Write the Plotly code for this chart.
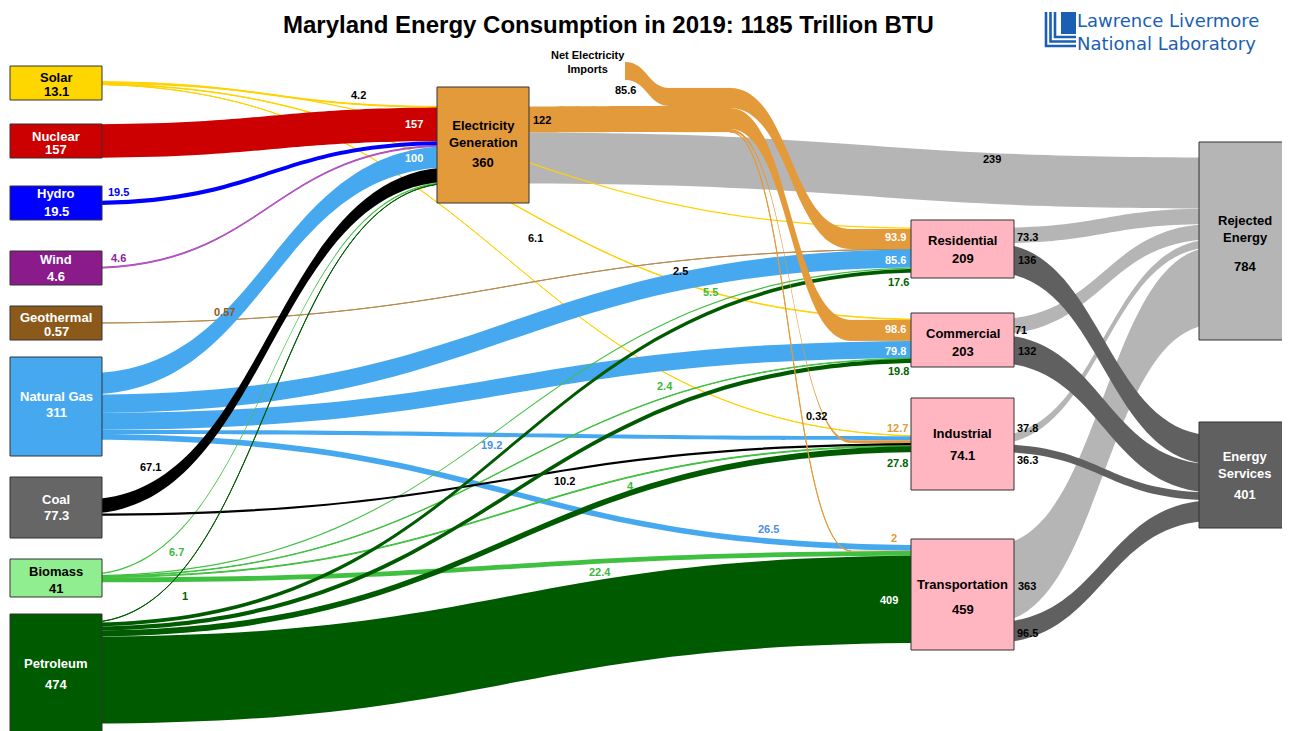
import plotly.graph_objects as go

# ---------------- DATA ----------------
NODE_NAMES = ["Solar", "Nuclear", "Hydro", "Wind", "Geothermal", "Natural Gas", "Coal",
              "Biomass", "Petroleum", "Net Electricity Imports", "Electricity Generation",
              "Electricity", "Electricity to Residential", "Electricity to Commercial",
              "Electricity to Industrial", "Electricity to Transportation",
              "Residential", "Commercial", "Industrial", "Transportation",
              "Rejected Energy", "Energy Services"]
NODE_TOTALS = [13.1, 157, 19.5, 4.6, 0.57, 311, 77.3, 41, 474, 85.6, 360,
               207.6, 93.9, 98.6, 12.7, 2,
               209, 203, 74.1, 459, 784, 401]
GRAND_TOTAL = 1185

LINK_SOURCE = ["Residential", "Commercial", "Industrial", "Transportation", "Electricity Generation",
               "Residential", "Commercial", "Industrial", "Transportation",
               "Solar", "Solar", "Solar", "Solar", "Geothermal", "Wind", "Hydro",
               "Natural Gas", "Natural Gas", "Natural Gas", "Natural Gas", "Natural Gas",
               "Biomass", "Biomass", "Biomass", "Biomass", "Biomass",
               "Coal", "Coal",
               "Petroleum", "Petroleum", "Petroleum", "Petroleum", "Petroleum",
               "Nuclear", "Electricity Generation", "Net Electricity Imports",
               "Electricity", "Electricity", "Electricity", "Electricity",
               "Electricity to Residential", "Electricity to Commercial",
               "Electricity to Industrial", "Electricity to Transportation"]
LINK_TARGET = ["Rejected Energy", "Rejected Energy", "Rejected Energy", "Rejected Energy", "Rejected Energy",
               "Energy Services", "Energy Services", "Energy Services", "Energy Services",
               "Electricity Generation", "Residential", "Commercial", "Industrial", "Residential",
               "Electricity Generation", "Electricity Generation",
               "Electricity Generation", "Residential", "Commercial", "Industrial", "Transportation",
               "Electricity Generation", "Residential", "Commercial", "Industrial", "Transportation",
               "Electricity Generation", "Industrial",
               "Electricity Generation", "Residential", "Commercial", "Industrial", "Transportation",
               "Electricity Generation", "Electricity", "Electricity",
               "Electricity to Residential", "Electricity to Commercial",
               "Electricity to Industrial", "Electricity to Transportation",
               "Residential", "Commercial", "Industrial", "Transportation"]
LINK_VALUE = [73.3, 71, 37.8, 363, 239,
              136, 132, 36.3, 96.5,
              4.2, 6.1, 2.5, 0.32, 0.57, 4.6, 19.5,
              100, 85.6, 79.8, 19.2, 26.5,
              6.7, 5.5, 2.4, 4, 22.4,
              67.1, 10.2,
              1, 17.6, 19.8, 27.8, 409,
              157, 122, 85.6,
              93.9, 98.6, 12.7, 2,
              93.9, 98.6, 12.7, 2]

# ---------------- LAYOUT / STYLE ----------------
OFF = 8                      # page body margin
W, H = 1290 - OFF, 731 - OFF
K = 0.213                    # px per trillion BTU
THICK = 60

SECTORS = ["Residential", "Commercial", "Industrial", "Transportation"]
# node centre positions in page px (None: computed so that flows run straight)
NODE_XY = {
    "Solar": (56, 83), "Nuclear": (56, 141), "Hydro": (56, 203), "Wind": (56, 268),
    "Geothermal": (56, 323), "Natural Gas": (56, 406.5), "Coal": (56, 507.5),
    "Biomass": (56, 578), "Petroleum": (56, 673), "Net Electricity Imports": (595, 71),
    "Electricity Generation": (483, 145), "Electricity": (700, 110),
    "Electricity to Residential": (881, None), "Electricity to Commercial": (881, None),
    "Electricity to Industrial": (881, None), "Electricity to Transportation": (881, None),
    "Residential": (962.5, 250), "Commercial": (962.5, 341), "Industrial": (962.5, 444),
    "Transportation": (962.5, 594), "Rejected Energy": (1245, 241),
    "Energy Services": (1245, 478),
}

ORANGE = "#E39A3B"
COL = {
    "Solar": "#FFD700", "Nuclear": "#CC0000", "Hydro": "#0000FF", "Wind": "#8B1A8B",
    "Geothermal": "#8B5A1A", "Natural Gas": "#46A9F0", "Coal": "#666666", "Biomass": "#90EE90",
    "Petroleum": "#005A00", "Net Electricity Imports": "rgba(0,0,0,0)",
    "Electricity Generation": ORANGE, "Electricity": ORANGE,
    "Electricity to Residential": ORANGE, "Electricity to Commercial": ORANGE,
    "Electricity to Industrial": ORANGE, "Electricity to Transportation": ORANGE,
    "Residential": "#FFB6C1", "Commercial": "#FFB6C1", "Industrial": "#FFB6C1",
    "Transportation": "#FFB6C1", "Rejected Energy": "#B5B5B5", "Energy Services": "#606060",
}
LINK_COL_BY_SOURCE = {
    "Solar": "#FFD200", "Nuclear": "#CC0000", "Hydro": "#0000FF", "Wind": "#B050C0",
    "Geothermal": "#B88A50", "Natural Gas": "#46A9F0", "Coal": "#000000", "Biomass": "#40C040",
    "Petroleum": "#005A00",
}
REJ_COL, SERV_COL = "#B5B5B5", "#606060"

GREEN_L, GREEN_D, BLUE_L = "#3CB83C", "#006400", "#4A90E2"
# link label placement, in LINK order:
#   ("fix", x, y) page px; ("above"/"below", x) = next to the link at that x; None = no label
LABEL_POS = [("fix", 1027, 237), ("fix", 1021, 330), ("fix", 1027, 428), ("fix", 1027, 586),
             ("fix", 992, 159),
             ("fix", 1027, 260), ("fix", 1027, 351), ("fix", 1027, 460), ("fix", 1027, 633),
             ("above", 358), ("fix", 535, 238), ("above", 680), ("above", 816), ("above", 224),
             ("above", 118), ("above", 118),
             ("fix", 414, 158), ("fix", 895, 260), ("fix", 895, 351), ("below", 491), ("above", 768),
             ("below", 177), ("above", 710), ("above", 665), ("below", 630), ("below", 600),
             ("above", 150), ("below", 564),
             ("fix", 185, 596), ("fix", 898, 282), ("fix", 898, 371), ("fix", 897, 463), ("fix", 889, 600),
             ("fix", 414, 124), ("fix", 542, 120), ("fix", 625, 90),
             None, None, None, None,
             ("fix", 895, 237), ("fix", 895, 329), ("fix", 897, 428), ("fix", 894, 538)]
LABEL_COL = ["black"] * 9 + \
            ["black", "black", "black", "black", "#8B5A1A", "#9020A0", "#0000FF"] + \
            ["white", "white", "white", BLUE_L, BLUE_L] + \
            [GREEN_L] * 5 + \
            ["black", "black"] + \
            [GREEN_D, GREEN_D, GREEN_D, GREEN_D, "white"] + \
            ["white", "black", "black"] + \
            [None] * 4 + \
            ["white", "white", ORANGE, ORANGE]
LABEL_SIZE = 11
LABEL_GAP = 2

# boxes: node -> (x0, y0, x1, y1, text colour, [(text, y), ...]) in page px
BOXES = {
    "Solar": (10, 66, 102, 100, "black", [("Solar", 77), ("{v}", 91)]),
    "Nuclear": (10, 124, 102, 158, "white", [("Nuclear", 136), ("{v}", 150)]),
    "Hydro": (10, 186, 102, 220, "white", [("Hydro", 194), ("{v}", 211)]),
    "Wind": (10, 251, 102, 285, "white", [("Wind", 259), ("{v}", 276)]),
    "Geothermal": (10, 306, 102, 340, "white", [("Geothermal", 317), ("{v}", 331)]),
    "Natural Gas": (10, 357, 102, 456, "white", [("Natural Gas", 396), ("{v}", 412)]),
    "Coal": (10, 477, 102, 538, "white", [("Coal", 499), ("{v}", 516)]),
    "Biomass": (10, 559, 102, 597, "black", [("Biomass", 571), ("{v}", 588)]),
    "Petroleum": (10, 614, 102, 745, "white", [("Petroleum", 663), ("{v}", 684)]),
    "Electricity Generation": (437, 87, 529, 203, "black",
                               [("Electricity<br>Generation", 134), ("{v}", 162)]),
    "Residential": (911, 220, 1014, 278, "black", [("Residential", 241), ("{v}", 258)]),
    "Commercial": (911, 313, 1014, 367, "black", [("Commercial", 334), ("{v}", 351)]),
    "Industrial": (911, 398, 1014, 490, "black", [("Industrial", 433), ("{v}", 455)]),
    "Transportation": (911, 539, 1014, 650, "black", [("Transportation", 584), ("{v}", 609)]),
    "Rejected Energy": (1199, 142, 1295, 340, "black", [("Rejected<br>Energy", 229), ("{v}", 266)]),
    "Energy Services": (1199, 422, 1295, 528, "white", [("Energy<br>Services", 465), ("{v}", 494)]),
}

FONT = "Liberation Sans, Arial, sans-serif"


def fmt(v):
    return f"{v:g}"


def px(X):
    return (X - OFF) / W


def py(Y):
    return 1 - (Y - OFF) / H


idx = {n: i for i, n in enumerate(NODE_NAMES)}
src = [idx[s] for s in LINK_SOURCE]
tgt = [idx[t] for t in LINK_TARGET]
NL = len(LINK_VALUE)

node_in = {n: 0.0 for n in NODE_NAMES}
node_out = {n: 0.0 for n in NODE_NAMES}
for s, t, v in zip(LINK_SOURCE, LINK_TARGET, LINK_VALUE):
    node_out[s] += v
    node_in[t] += v


def nval(n):
    return max(node_in[n], node_out[n])


# padding chosen so that the value->pixel scale of the first column equals K
first_col = [n for n in NODE_NAMES if node_in[n] == 0]
s0 = sum(nval(n) for n in first_col)
pad = (H - K * s0) / (len(first_col) - 1)

# vertical centres of the electricity feeder nodes: aligned with their slot in each sector
cy = {n: xy[1] for n, xy in NODE_XY.items()}
for sct in SECTORS:
    cy["Electricity to " + sct] = cy[sct]
for _ in range(10):
    for sct in SECTORS:
        inflow = [(s, v) for s, t, v in zip(LINK_SOURCE, LINK_TARGET, LINK_VALUE) if t == sct]
        inflow.sort(key=lambda sv: cy[sv[0]] - nval(sv[0]) * K / 2)
        y = cy[sct] - nval(sct) * K / 2
        for s, v in inflow:
            if s == "Electricity to " + sct:
                cy[s] = y + v * K / 2
            y += v * K

# replicate the link stacking to place labels next to their links
ny0 = {n: cy[n] - nval(n) * K / 2 for n in NODE_NAMES}
ys, yt = [0.0] * NL, [0.0] * NL
for n in NODE_NAMES:
    outs = sorted([i for i in range(NL) if LINK_SOURCE[i] == n],
                  key=lambda i: (ny0[LINK_TARGET[i]], i))
    y = ny0[n]
    for i in outs:
        w = LINK_VALUE[i] * K
        ys[i] = y + w / 2
        y += w
    ins = sorted([i for i in range(NL) if LINK_TARGET[i] == n],
                 key=lambda i: (ny0[LINK_SOURCE[i]], i))
    y = ny0[n]
    for i in ins:
        w = LINK_VALUE[i] * K
        yt[i] = y + w / 2
        y += w


def link_y(i, X):
    x0 = NODE_XY[LINK_SOURCE[i]][0] + THICK / 2
    x1 = NODE_XY[LINK_TARGET[i]][0] - THICK / 2
    lo, hi = 0.0, 1.0
    for _ in range(50):
        t = (lo + hi) / 2
        xt = x0 + (x1 - x0) * (1.5 * t * (1 - t) + t ** 3)
        if xt < X:
            lo = t
        else:
            hi = t
    t = (lo + hi) / 2
    return ys[i] + (yt[i] - ys[i]) * (3 * t * t - 2 * t ** 3)


link_colors = []
for s, t in zip(LINK_SOURCE, LINK_TARGET):
    if t == "Rejected Energy":
        link_colors.append(REJ_COL)
    elif t == "Energy Services":
        link_colors.append(SERV_COL)
    elif s in LINK_COL_BY_SOURCE:
        link_colors.append(LINK_COL_BY_SOURCE[s])
    else:
        link_colors.append(ORANGE)

fig = go.Figure(go.Sankey(
    arrangement="fixed",
    domain=dict(x=[0, 1], y=[0, 1]),
    node=dict(
        label=["" for _ in NODE_NAMES],
        customdata=NODE_NAMES,
        hovertemplate="%{customdata}: %{value}<extra></extra>",
        x=[(NODE_XY[n][0] - OFF) / W for n in NODE_NAMES],
        y=[(cy[n] - OFF) / H for n in NODE_NAMES],
        pad=pad,
        thickness=THICK,
        color=[COL[n] for n in NODE_NAMES],
        line=dict(width=0),
    ),
    link=dict(source=src, target=tgt, value=LINK_VALUE, color=link_colors,
              hoverinfo="none"),
))

shapes = []
annotations = []
for n, (x0, y0, x1, y1, tc, texts) in BOXES.items():
    shapes.append(dict(type="rect", xref="paper", yref="paper", layer="above",
                       x0=px(x0), x1=px(x1), y0=py(y0), y1=py(y1),
                       fillcolor=COL[n], line=dict(color="#333333", width=1)))
    total = NODE_TOTALS[idx[n]]
    for txt, ty in texts:
        annotations.append(dict(
            x=px((x0 + min(x1, 1290)) / 2), y=py(ty), xref="paper", yref="paper",
            text="<b>" + txt.replace("{v}", fmt(total)) + "</b>", showarrow=False,
            font=dict(family=FONT, size=13, color=tc), xanchor="center", yanchor="middle"))

for i, (v, pos, lc) in enumerate(zip(LINK_VALUE, LABEL_POS, LABEL_COL)):
    if pos is None:
        continue
    txt = fmt(v)
    if pos[0] == "fix":
        lx, ly = pos[1], pos[2]
    else:
        lx = pos[1]
        half_w = len(txt) * 3.3 + 1
        half_lw = LINK_VALUE[i] * K / 2
        yl, yr = link_y(i, lx - half_w), link_y(i, lx + half_w)
        if pos[0] == "above":
            ly = min(yl, yr) - half_lw - LABEL_GAP - LABEL_SIZE / 2
        else:
            ly = max(yl, yr) + half_lw + LABEL_GAP + LABEL_SIZE / 2
    annotations.append(dict(
        x=px(lx), y=py(ly), xref="paper", yref="paper", text="<b>" + txt + "</b>",
        showarrow=False, font=dict(family=FONT, size=LABEL_SIZE, color=lc),
        xanchor="center", yanchor="middle"))

# Net electricity imports label
annotations.append(dict(x=px(588), y=py(62), xref="paper", yref="paper",
                        text="<b>Net Electricity<br>Imports</b>", showarrow=False,
                        font=dict(family=FONT, size=11, color="black"),
                        xanchor="center", yanchor="middle"))

# title
annotations.append(dict(x=px(608), y=py(24), xref="paper", yref="paper",
                        text=f"<b>Maryland Energy Consumption in 2019: {GRAND_TOTAL} Trillion BTU</b>",
                        showarrow=False, font=dict(family=FONT, size=24, color="black"),
                        xanchor="center", yanchor="middle"))

# LLNL logo
LOGO_BLUE = "#1A5FB4"
annotations.append(dict(x=px(1075), y=py(32), xref="paper", yref="paper",
                        text="Lawrence Livermore<br>National Laboratory", showarrow=False,
                        align="left",
                        font=dict(family="DejaVu Sans, Liberation Sans, Arial", size=18,
                                  color=LOGO_BLUE),
                        xanchor="left", yanchor="middle"))


def P(x, y):
    return f"{px(x):.5f},{py(y):.5f}"


shapes.append(dict(type="rect", xref="paper", yref="paper", layer="above",
                   x0=px(1061), x1=px(1076), y0=py(12), y1=py(34),
                   fillcolor=LOGO_BLUE, line=dict(width=0)))
for off in (0, 4.5, 9):
    shapes.append(dict(type="path", xref="paper", yref="paper", layer="above",
                       path=f"M{P(1046 + off, 12)} L{P(1046 + off, 46 - off)} L{P(1076, 46 - off)}",
                       line=dict(color=LOGO_BLUE, width=2.6)))

fig.update_layout(
    width=W, height=H, margin=dict(l=0, r=0, t=0, b=0),
    paper_bgcolor="white", plot_bgcolor="white",
    shapes=shapes, annotations=annotations,
    font=dict(family=FONT),
)

fig.write_html("out.html")
